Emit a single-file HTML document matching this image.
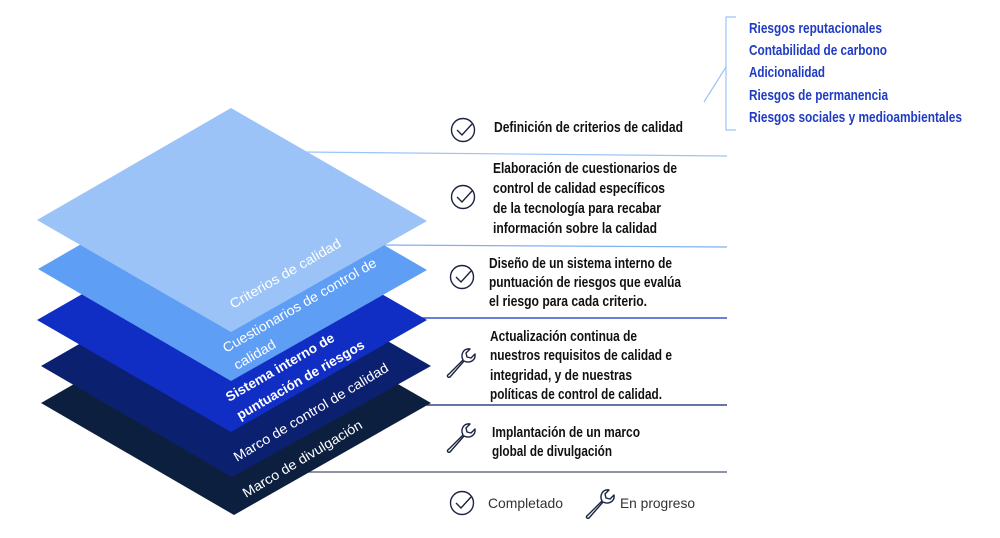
<!DOCTYPE html>
<html><head><meta charset="utf-8"><style>
html,body{margin:0;padding:0;background:#fff;width:1000px;height:538px;overflow:hidden}
svg{display:block}
.t{font-family:"Liberation Sans",sans-serif;font-weight:bold;font-size:15px;fill:#111}
.b{font-family:"Liberation Sans",sans-serif;font-weight:bold;font-size:15px;fill:#1f3bc4}
.w{font-family:"Liberation Sans",sans-serif;font-size:13.5px;fill:#fff}
.lg{font-family:"Liberation Sans",sans-serif;font-size:14px;fill:#333}
</style></head><body>
<svg width="1000" height="538" viewBox="0 0 1000 538">
<defs>
<g id="chk"><circle cx="0" cy="0" r="11.5" fill="none" stroke="#1a2340" stroke-width="1.4"/><path d="M-6,0 L-1,5 L9,-6" fill="none" stroke="#1a2340" stroke-width="1.4"/></g>
<g id="wr"><path d="M-12,11 L2,-3 C-1,-9 3,-15 9,-14 L5,-10 L6,-6 L10,-5 L14,-9 C15,-3 9,1 3,-2 L-11,14 C-13,15 -15,13 -12,11 Z" fill="none" stroke="#1a2340" stroke-width="1.4" stroke-linejoin="round"/></g>
</defs>
<line x1="300" y1="152" x2="727" y2="156" stroke="#9cc3f7" stroke-width="1.2"/>
<line x1="380" y1="245" x2="727" y2="247" stroke="#7fb0f5" stroke-width="1.2"/>
<line x1="410" y1="318" x2="727" y2="318" stroke="#1230c4" stroke-width="1.2"/>
<line x1="420" y1="405" x2="727" y2="405" stroke="#0c2070" stroke-width="1.2"/>
<line x1="300" y1="472" x2="727" y2="472" stroke="#4a5570" stroke-width="1.2"/>
<polygon points="236,291 431,403 234,515 41,403" fill="#0d1f3f"/>
<polygon points="236,254 431,366 232,477 41,366" fill="#0c2070"/>
<polygon points="232,208 427,320 231,432 37,320" fill="#102dc4"/>
<polygon points="232,157 427,270 231,381 38,269" fill="#5f9ef5"/>
<polygon points="231,108 427,221 231,332 37,220" fill="#9cc3f7"/>
<g transform="rotate(-30 233 309)"><text class="w" x="233" y="309" textLength="126" lengthAdjust="spacingAndGlyphs">Criterios de calidad</text></g>
<g transform="rotate(-30 226 353)"><text class="w" x="226" y="353" textLength="175" lengthAdjust="spacingAndGlyphs">Cuestionarios de control de</text></g>
<g transform="rotate(-30 237 370)"><text class="w" x="237" y="370" textLength="46" lengthAdjust="spacingAndGlyphs">calidad</text></g>
<g transform="rotate(-30 229 402)"><text class="w" x="229" y="402" font-weight="bold" textLength="123" lengthAdjust="spacingAndGlyphs">Sistema interno de</text></g>
<g transform="rotate(-30 240 420)"><text class="w" x="240" y="420" font-weight="bold" textLength="145" lengthAdjust="spacingAndGlyphs">puntuación de riesgos</text></g>
<g transform="rotate(-31 237 462)"><text class="w" x="237" y="462" textLength="178" lengthAdjust="spacingAndGlyphs">Marco de control de calidad</text></g>
<g transform="rotate(-31 246 498)"><text class="w" x="246" y="498" textLength="137" lengthAdjust="spacingAndGlyphs">Marco de divulgación</text></g>
<path d="M736,17 L726,17 L726,130 L736,130" fill="none" stroke="#9cc3f7" stroke-width="1.2"/>
<line x1="704" y1="102" x2="726" y2="67" stroke="#9cc3f7" stroke-width="1.2"/>
<text class="b" x="749" y="33" textLength="133" lengthAdjust="spacingAndGlyphs">Riesgos reputacionales</text>
<text class="b" x="749" y="55" textLength="138" lengthAdjust="spacingAndGlyphs">Contabilidad de carbono</text>
<text class="b" x="749" y="77" textLength="76" lengthAdjust="spacingAndGlyphs">Adicionalidad</text>
<text class="b" x="749" y="100" textLength="139" lengthAdjust="spacingAndGlyphs">Riesgos de permanencia</text>
<text class="b" x="749" y="122" textLength="213" lengthAdjust="spacingAndGlyphs">Riesgos sociales y medioambientales</text>
<use href="#chk" x="463" y="130"/>
<text class="t" x="494" y="132" textLength="189" lengthAdjust="spacingAndGlyphs">Definición de criterios de calidad</text>
<use href="#chk" x="463" y="197"/>
<text class="t" x="493" y="173" textLength="184" lengthAdjust="spacingAndGlyphs">Elaboración de cuestionarios de</text>
<text class="t" x="493" y="193" textLength="172" lengthAdjust="spacingAndGlyphs">control de calidad específicos</text>
<text class="t" x="493" y="213" textLength="168" lengthAdjust="spacingAndGlyphs">de la tecnología para recabar</text>
<text class="t" x="493" y="233" textLength="164" lengthAdjust="spacingAndGlyphs">información sobre la calidad</text>
<use href="#chk" x="462" y="277"/>
<text class="t" x="489" y="268" textLength="183" lengthAdjust="spacingAndGlyphs">Diseño de un sistema interno de</text>
<text class="t" x="489" y="287" textLength="192" lengthAdjust="spacingAndGlyphs">puntuación de riesgos que evalúa</text>
<text class="t" x="489" y="306" textLength="158" lengthAdjust="spacingAndGlyphs">el riesgo para cada criterio.</text>
<use href="#wr" x="461" y="363"/>
<text class="t" x="490" y="341" textLength="147" lengthAdjust="spacingAndGlyphs">Actualización continua de</text>
<text class="t" x="490" y="360" textLength="182" lengthAdjust="spacingAndGlyphs">nuestros requisitos de calidad e</text>
<text class="t" x="490" y="380" textLength="142" lengthAdjust="spacingAndGlyphs">integridad, y de nuestras</text>
<text class="t" x="490" y="399" textLength="172" lengthAdjust="spacingAndGlyphs">políticas de control de calidad.</text>
<use href="#wr" x="461" y="438"/>
<text class="t" x="492" y="437" textLength="148" lengthAdjust="spacingAndGlyphs">Implantación de un marco</text>
<text class="t" x="492" y="456" textLength="120" lengthAdjust="spacingAndGlyphs">global de divulgación</text>
<use href="#chk" x="462" y="503"/>
<text class="lg" x="488" y="508" textLength="75" lengthAdjust="spacingAndGlyphs">Completado</text>
<use href="#wr" x="600" y="504"/>
<text class="lg" x="620" y="508" textLength="75" lengthAdjust="spacingAndGlyphs">En progreso</text>
</svg>
</body></html>
